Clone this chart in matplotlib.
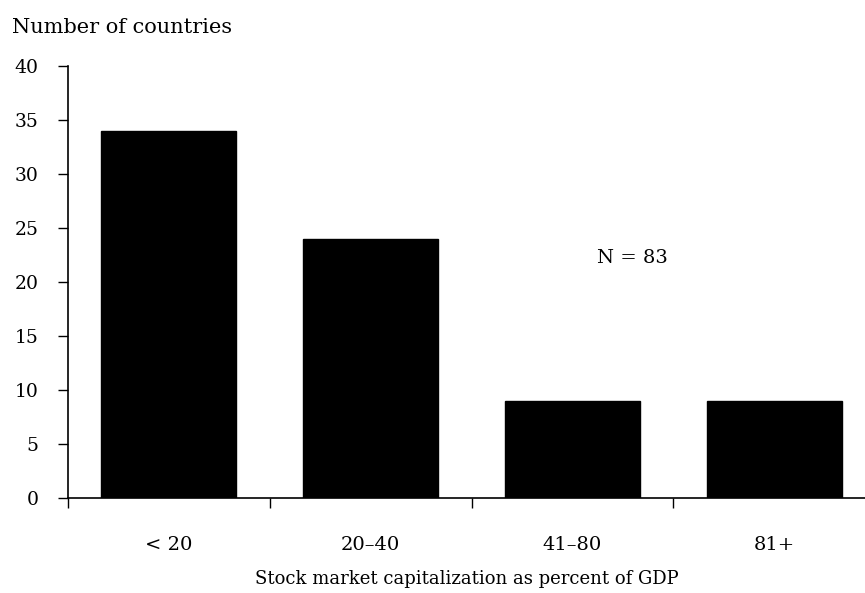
import numpy as np
import matplotlib.pyplot as plt

plt.rcParams['font.family'] = ['DejaVu Serif']

categories = ['< 20', '20\u201340', '41\u201380', '81+']
counts = [34, 24, 9, 9]

fig = plt.figure(figsize=(8.65, 5.93), dpi=100)
ax = fig.add_axes([0.0786, 0.1602, 0.9214, 0.7285])

x = np.arange(len(categories))
ax.bar(x, counts, width=0.67, color='black', edgecolor='black')

ax.set_xlim(-0.5, 3.45)
ax.set_ylim(0, 40)
ax.set_yticks(np.arange(0, 41, 5))
ax.tick_params(axis='y', direction='out', length=7, width=1, labelsize=13.5, pad=14)

ax.set_xticks(x)
ax.set_xticklabels(categories)
ax.tick_params(axis='x', which='major', length=0, labelsize=14, pad=27)
ax.set_xticks(np.arange(-0.5, 3.0, 1.0), minor=True)
ax.tick_params(axis='x', which='minor', direction='out', length=7, width=1)

for s in ['top', 'right']:
    ax.spines[s].set_visible(False)
ax.spines['left'].set_linewidth(1.2)
ax.spines['bottom'].set_linewidth(1.2)

ax.set_xlabel('Stock market capitalization as percent of GDP', fontsize=13, labelpad=12)
fig.text(0.014, 0.953, 'Number of countries', fontsize=15, ha='left', va='center')
ax.text(2.12, 22.2, 'N = 83', fontsize=14, ha='left', va='center')

fig.savefig('out.png', dpi=100)
